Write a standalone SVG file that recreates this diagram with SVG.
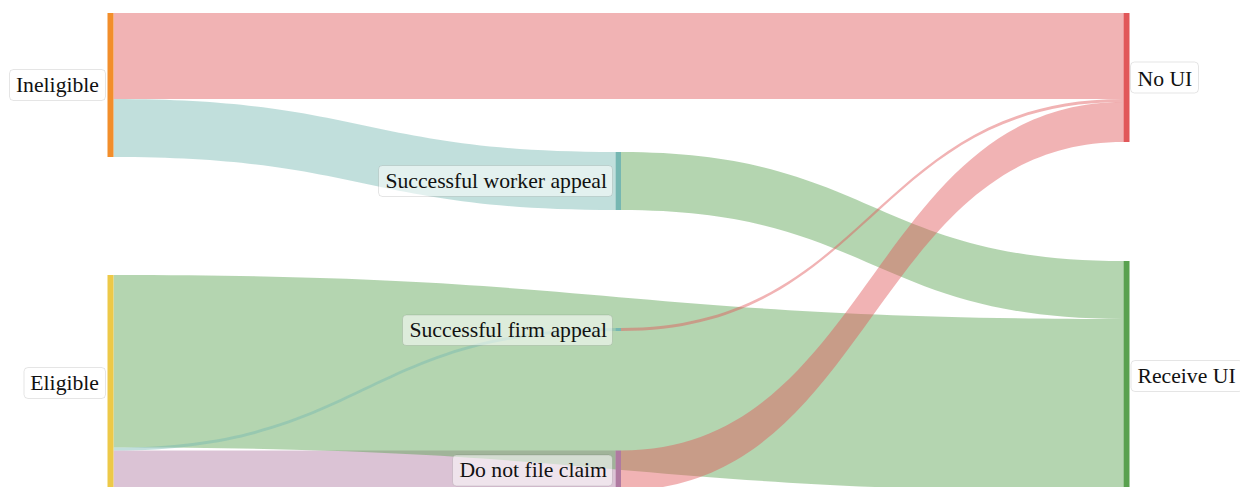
<svg xmlns="http://www.w3.org/2000/svg" width="1240" height="487" viewBox="0 0 1240 487">
<style>
.lk{stroke:none}
.red{fill:#e15759;fill-opacity:0.45}
.green{fill:#59a14f;fill-opacity:0.45}
.teal{fill:#76b7b2;fill-opacity:0.45}
.purple{fill:#b07aa1;fill-opacity:0.45}
.box{fill:#ffffff;fill-opacity:0.55;stroke:#000;stroke-opacity:0.1;stroke-width:1}
.lbl{font-family:"Liberation Serif","Times New Roman",serif;font-size:21.7px;fill:#111}
</style>
<rect x="0" y="0" width="1240" height="487" fill="#ffffff"/>
<g id="connectors">
  <path class="lk red" d="M113.5,13 C618.5,13 618.5,13 1123.5,13 L1123.5,99 C618.5,99 618.5,99 113.5,99 Z"/>
  <path class="lk teal" d="M113.5,99 C364.5,99 364.5,152 615.5,152 L615.5,210 C364.5,210 364.5,157 113.5,157 Z"/>
  <path class="lk green" d="M621,152 C872.25,152 872.25,261 1123.5,261 L1123.5,319 C872.25,319 872.25,210 621,210 Z"/>
  <path class="lk purple" d="M113.5,450.5 C364.5,450.5 364.5,450.5 615.5,450.5 L615.5,490.5 C364.5,490.5 364.5,490.5 113.5,490.5 Z"/>
  <path class="lk green" d="M113.5,275 C618.5,275 618.5,319 1123.5,319 L1123.5,491.5 C618.5,491.5 618.5,447.5 113.5,447.5 Z"/>
  <path class="lk teal" d="M113.5,447.5 C364.5,447.5 364.5,328 615.5,328 L615.5,331 C364.5,331 364.5,450.5 113.5,450.5 Z"/>
  <path class="lk red" d="M621,328 C872.25,328 872.25,99 1123.5,99 L1123.5,102 C872.25,102 872.25,331 621,331 Z"/>
  <path class="lk red" d="M621,450.5 C872.25,450.5 872.25,102 1123.5,102 L1123.5,142 C872.25,142 872.25,490.5 621,490.5 Z"/>
</g>
<g id="node-ineligible">
  <rect x="107.5" y="13" width="6" height="144" fill="#f28e2b"/>
  <rect class="box" x="9.5" y="69.5" width="96" height="31" rx="4"/>
  <text class="lbl" x="99" y="92" text-anchor="end">Ineligible</text>
</g>
<g id="node-eligible">
  <rect x="107.5" y="275" width="6" height="215.5" fill="#edc948"/>
  <rect class="box" x="24" y="367.5" width="81.5" height="31" rx="4"/>
  <text class="lbl" x="99" y="390" text-anchor="end">Eligible</text>
</g>
<g id="node-worker-appeal">
  <rect x="615.5" y="152" width="5.5" height="58" fill="#76b7b2"/>
  <rect class="box" x="378.5" y="165.5" width="234" height="31" rx="4"/>
  <text class="lbl" x="607" y="188" text-anchor="end">Successful worker appeal</text>
</g>
<g id="node-firm-appeal">
  <rect x="615.5" y="328" width="5.5" height="3" fill="#76b7b2"/>
  <rect class="box" x="402.5" y="315" width="210" height="30.5" rx="4"/>
  <text class="lbl" x="607" y="337" text-anchor="end">Successful firm appeal</text>
</g>
<g id="node-do-not-file">
  <rect x="615.5" y="450.5" width="5.5" height="40" fill="#b07aa1"/>
  <rect class="box" x="452.5" y="455" width="160" height="31" rx="4"/>
  <text class="lbl" x="607" y="477" text-anchor="end">Do not file claim</text>
</g>
<g id="node-no-ui">
  <rect x="1123.5" y="13" width="6" height="129" fill="#e15759"/>
  <rect class="box" x="1130.5" y="62" width="68" height="31" rx="4"/>
  <text class="lbl" x="1137.5" y="85.5">No UI</text>
</g>
<g id="node-receive-ui">
  <rect x="1123.5" y="261" width="6" height="230.5" fill="#59a14f"/>
  <rect class="box" x="1131" y="360.5" width="112" height="31" rx="4"/>
  <text class="lbl" x="1137.5" y="383">Receive UI</text>
</g>
</svg>
